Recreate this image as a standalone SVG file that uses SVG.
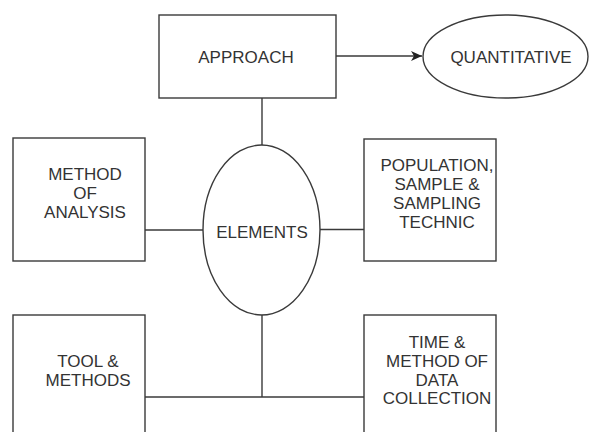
<svg xmlns="http://www.w3.org/2000/svg" width="589" height="432" viewBox="0 0 589 432">
<style>
.s{fill:#fff;stroke:#3a3a3a;stroke-width:1.4}
.c{fill:none;stroke:#3a3a3a;stroke-width:1.4}
text{font-family:"Liberation Sans",Arial,sans-serif;font-size:17px;fill:#333;text-anchor:middle}
</style>
<defs>
<marker id="ah" markerWidth="12" markerHeight="10" refX="11" refY="5" orient="auto" markerUnits="userSpaceOnUse">
<path d="M0,0 L11,5 L0,10 L3,5 Z" fill="#222"/>
</marker>
</defs>
<rect width="589" height="432" fill="#fff"/>
<g id="connectors">
<path class="c" d="M336,56 H422" marker-end="url(#ah)"/>
<path class="c" d="M262,98 V145"/>
<path class="c" d="M145,230 H203"/>
<path class="c" d="M320,229.5 H364"/>
<path class="c" d="M262,315 V397"/>
<path class="c" d="M145,397 H364"/>
</g>
<g id="approach">
<rect class="s" x="159" y="15" width="177" height="83"/>
<text x="246" y="63">APPROACH</text>
</g>
<g id="quantitative">
<ellipse class="s" cx="505.5" cy="56.5" rx="82.5" ry="41.5"/>
<text x="511" y="63">QUANTITATIVE</text>
</g>
<g id="elements">
<ellipse class="s" cx="261.5" cy="230" rx="58.5" ry="85"/>
<text x="262" y="238">ELEMENTS</text>
</g>
<g id="method-of-analysis">
<rect class="s" x="13" y="138" width="132" height="123"/>
<text x="85" y="180">METHOD</text>
<text x="85" y="199">OF</text>
<text x="85" y="218">ANALYSIS</text>
</g>
<g id="population">
<rect class="s" x="364" y="139" width="132" height="122"/>
<text x="437" y="171">POPULATION,</text>
<text x="437" y="190">SAMPLE &amp;</text>
<text x="437" y="209">SAMPLING</text>
<text x="437" y="228">TECHNIC</text>
</g>
<g id="tool-methods">
<rect class="s" x="13" y="315" width="132" height="130"/>
<text x="88" y="367">TOOL &amp;</text>
<text x="88" y="386">METHODS</text>
</g>
<g id="time-method">
<rect class="s" x="364" y="315" width="132" height="130"/>
<text x="437" y="348">TIME &amp;</text>
<text x="437" y="367">METHOD OF</text>
<text x="437" y="386">DATA</text>
<text x="437" y="404">COLLECTION</text>
</g>
</svg>
